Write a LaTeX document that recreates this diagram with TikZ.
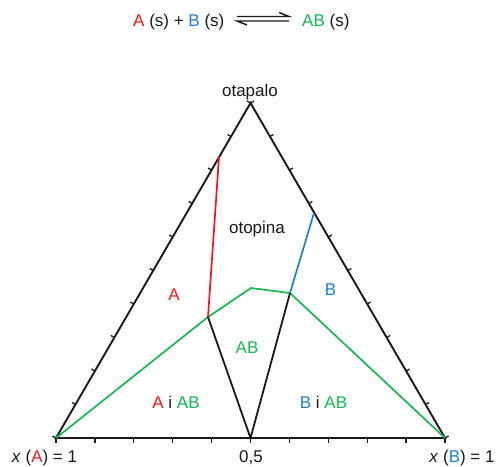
\documentclass[tikz,border=0pt]{standalone}
\usepackage{fontspec}
\setmainfont{Liberation Sans}
\usetikzlibrary{calc}
\definecolor{cA}{RGB}{250,20,20}
\definecolor{cB}{RGB}{28,128,210}
\definecolor{cAB}{RGB}{20,185,80}
\definecolor{ink}{RGB}{25,25,25}
\tikzset{
  lbl/.style={inner sep=0pt, font=\fontsize{17}{20}\selectfont, text=ink, anchor=base},
  side/.style={draw=ink, line width=1.9pt, line join=miter},
  tick/.style={draw=ink, line width=1.3pt},
  border/.style={draw=ink, line width=1.8pt},
  redln/.style={draw=cA, line width=1.7pt},
  blueln/.style={draw=cB, line width=1.7pt},
  greenln/.style={draw=cAB, line width=1.7pt, line join=round},
}
\begin{document}
\begin{tikzpicture}[x=1pt,y=-1pt]
\useasboundingbox (0,0) rectangle (497,466);
% vertices
\coordinate (L) at (56,438);
\coordinate (R) at (445,438);
\coordinate (T) at (250.5,103);
\coordinate (M) at (250.5,438);
% interior points
\coordinate (P1) at (208,317);
\coordinate (P2) at (251,288);
\coordinate (P3) at (290,293);
\coordinate (RA) at (219,157);
\coordinate (RB) at (314,213);
% ticks
\foreach \i in {0,...,10} {
  \draw[tick] ($(L)!\i/10!(T)$) -- ++(-3.5,-2);
  \draw[tick] ($(R)!\i/10!(T)$) -- ++(3.5,-2);
  \draw[tick] ($(L)!\i/10!(R)$) -- ++(0,4.5);
}
% triangle
\draw[side] (L) -- (T) -- (R) -- cycle;
% phase boundaries
\draw[greenln] (L) -- (P1) -- (P2) -- (P3) -- (R);
\draw[border] (P1) -- (M) -- (P3);
\draw[redln] (RA) -- (P1);
\draw[blueln] (RB) -- (P3);
% equation
\node[lbl, anchor=base west] (eq1) at (133,26) {\textcolor{cA}{A} (s) + \textcolor{cB}{B} (s)};
\coordinate (h1) at (237,16.5);
\coordinate (h2) at (289,16.5);
\coordinate (h3) at (237,21);
\coordinate (h4) at (289,21);
\draw[ink, line width=1.4pt] (h1) -- (h2) -- ++(-10,-4);
\draw[ink, line width=1.4pt] (h4) -- (h3) -- ++(10,4);
\node[lbl, anchor=base west] (eq2) at (302,26) {\textcolor{cAB}{AB} (s)};
% labels
\node[lbl] (top) at (250,96.5) {otapalo};
\node[lbl] (sol) at (257,233) {otopina};
\node[lbl, text=cA] (la) at (174,300) {A};
\node[lbl, text=cB] (lb) at (330.5,295) {B};
\node[lbl, text=cAB] (lab) at (247,353) {AB};
\node[lbl] (laab) at (176,408.5) {\textcolor{cA}{A} i \textcolor{cAB}{AB}};
\node[lbl] (lbab) at (323.5,408.5) {\textcolor{cB}{B} i \textcolor{cAB}{AB}};
\node[lbl] (xa) at (44.5,462) {\textit{x} (\textcolor{cA}{A}) = 1};
\node[lbl] (half) at (251,462) {0,5};
\node[lbl] (xb) at (462,462) {\textit{x} (\textcolor{cB}{B}) = 1};
\end{tikzpicture}
\end{document}
